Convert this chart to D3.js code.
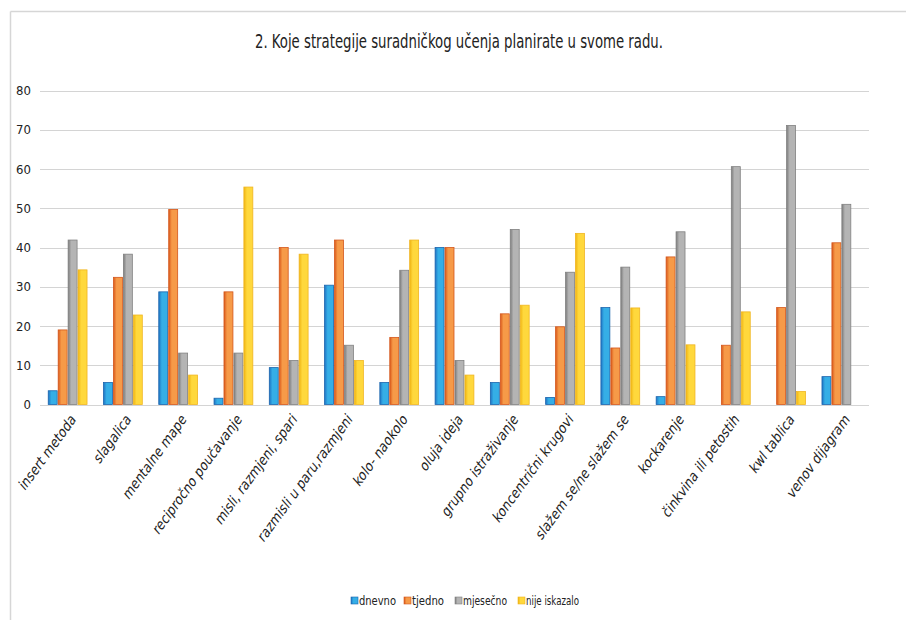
<!DOCTYPE html>
<html>
<head>
<meta charset="utf-8">
<title>Koje strategije suradničkog učenja planirate u svome radu</title>
<script src="https://cdn.jsdelivr.net/npm/d3@7/dist/d3.min.js"></script>
<style>
  body { margin: 0; background: #fff; }
  svg text { font-family: "Liberation Sans Narrow", "DejaVu Sans Condensed", "Open Sans", sans-serif; fill: #222; }
</style>
</head>
<body>
<div id="chart"></div>
<script>
// categories and series (percent of answers)
const categories = ["insert metoda", "slagalica", "mentalne mape", "recipročno poučavanje",
  "misli, razmjeni, spari", "razmisli u paru,razmjeni", "kolo- naokolo", "oluja ideja",
  "grupno istraživanje", "koncentrični krugovi", "slažem se/ne slažem se", "kockarenje",
  "činkvina ili petostih", "kwl tablica", "venov dijagram"];
const seriesNames = ["dnevno", "tjedno", "mjesečno", "nije iskazalo"];
const dnevno   = [3.5, 5.6, 28.7, 1.6, 9.4, 30.4, 5.6, 40.0, 5.6, 1.8, 24.7, 2.0, 0, 0, 7.1];
const tjedno   = [19.0, 32.4, 49.7, 28.7, 40.0, 41.9, 17.1, 40.0, 23.1, 19.8, 14.4, 37.6, 15.1, 24.7, 41.2];
const mjesecno = [41.9, 38.3, 13.1, 13.1, 11.2, 15.1, 34.2, 11.2, 44.6, 33.7, 35.0, 44.0, 60.6, 71.1, 51.0];
const nije     = [34.3, 22.8, 7.5, 55.4, 38.3, 11.2, 41.9, 7.5, 25.3, 43.6, 24.6, 15.2, 23.6, 3.3, 0];
const yTicks = [0, 10, 20, 30, 40, 50, 60, 70, 80];

const series = [dnevno, tjedno, mjesecno, nije];
const fills   = [["#1f74c4", "#35aee6"], ["#d9581a", "#f69a48"], ["#7c7c7c", "#b4b4b4"], ["#efb412", "#ffd83c"]];
const strokes = ["#1a64ad", "#d4561b", "#808080", "#f0b520"];

const W = 906, H = 620;
const svg = d3.select("#chart").append("svg").attr("width", W).attr("height", H);

// gradients for the Excel-ish bar look
const defs = svg.append("defs");
fills.forEach((c, i) => {
  const g = defs.append("linearGradient").attr("id", "g" + i)
    .attr("x1", "0%").attr("x2", "100%").attr("y1", "0%").attr("y2", "0%");
  g.append("stop").attr("offset", "0%").attr("stop-color", c[0]);
  g.append("stop").attr("offset", "35%").attr("stop-color", c[1]);
  g.append("stop").attr("offset", "100%").attr("stop-color", c[1]);
});

// frame
svg.append("line").attr("x1", 10.5).attr("x2", W).attr("y1", 11.5).attr("y2", 11.5)
  .attr("stroke", "#d6d6d6").attr("stroke-width", 1.5);
svg.append("line").attr("x1", 10.5).attr("x2", 10.5).attr("y1", 11.5).attr("y2", H)
  .attr("stroke", "#d6d6d6").attr("stroke-width", 1.5);

svg.append("text").attr("x", 459).attr("y", 48).attr("text-anchor", "middle")
  .attr("textLength", 408).attr("lengthAdjust", "spacingAndGlyphs")
  .style("font-size", "19px").text("2. Koje strategije suradničkog učenja planirate u svome radu.");

const x = d3.scaleBand().domain(categories).range([40, 869]).paddingInner(0.28).paddingOuter(0.14);
const xs = d3.scaleBand().domain(d3.range(4)).range([0, x.bandwidth()]);
const y = d3.scaleLinear().domain([0, 80]).range([404.5, 90.5]);

// grid
svg.append("g").selectAll("line").data(yTicks).join("line")
  .attr("x1", 40).attr("x2", 869)
  .attr("y1", d => Math.round(y(d)) + 0.5).attr("y2", d => Math.round(y(d)) + 0.5)
  .attr("stroke", "#d4d4d4").attr("stroke-width", 1.2);

const yAxis = svg.append("g").attr("transform", "translate(31,0)")
  .call(d3.axisLeft(y).tickValues(yTicks).tickSize(0).tickPadding(0));
yAxis.select(".domain").remove();
yAxis.selectAll("text").style("font-size", "13px").attr("fill", "#222");

// bars
const groups = svg.append("g").selectAll("g").data(categories).join("g")
  .attr("transform", d => `translate(${x(d)},0)`);
series.forEach((vals, si) => {
  groups.append("rect")
    .attr("x", xs(si) + 0.5)
    .attr("width", xs.bandwidth() - 1)
    .attr("y", (d, i) => y(vals[i]))
    .attr("height", (d, i) => y(0) - y(vals[i]))
    .attr("fill", `url(#g${si})`)
    .attr("stroke", strokes[si]).attr("stroke-width", 0.8)
    .style("display", (d, i) => vals[i] > 0 ? null : "none");
});

// x labels (skew fakes the italic, condensed font has no oblique)
svg.append("g").selectAll("text").data(categories).join("text")
  .attr("transform", d => `translate(${x(d) + x.bandwidth() / 2 + 9},${420}) rotate(-54) skewX(-12)`)
  .attr("text-anchor", "end")
  .style("font-size", "14px")
  .text(d => d);

// legend
const legendX = [351, 404, 455, 518];
const legendW = [37, 32, 44, 53];
const leg = svg.append("g").selectAll("g").data(seriesNames).join("g")
  .attr("transform", (d, i) => `translate(${legendX[i]},597)`);
leg.append("rect").attr("width", 7).attr("height", 7).attr("fill", (d, i) => `url(#g${i})`)
  .attr("stroke", (d, i) => strokes[i]).attr("stroke-width", 0.6);
leg.append("text").attr("x", 8).attr("y", 8)
  .attr("textLength", (d, i) => legendW[i]).attr("lengthAdjust", "spacingAndGlyphs")
  .style("font-size", "12px").text(d => d);
</script>
</body>
</html>
